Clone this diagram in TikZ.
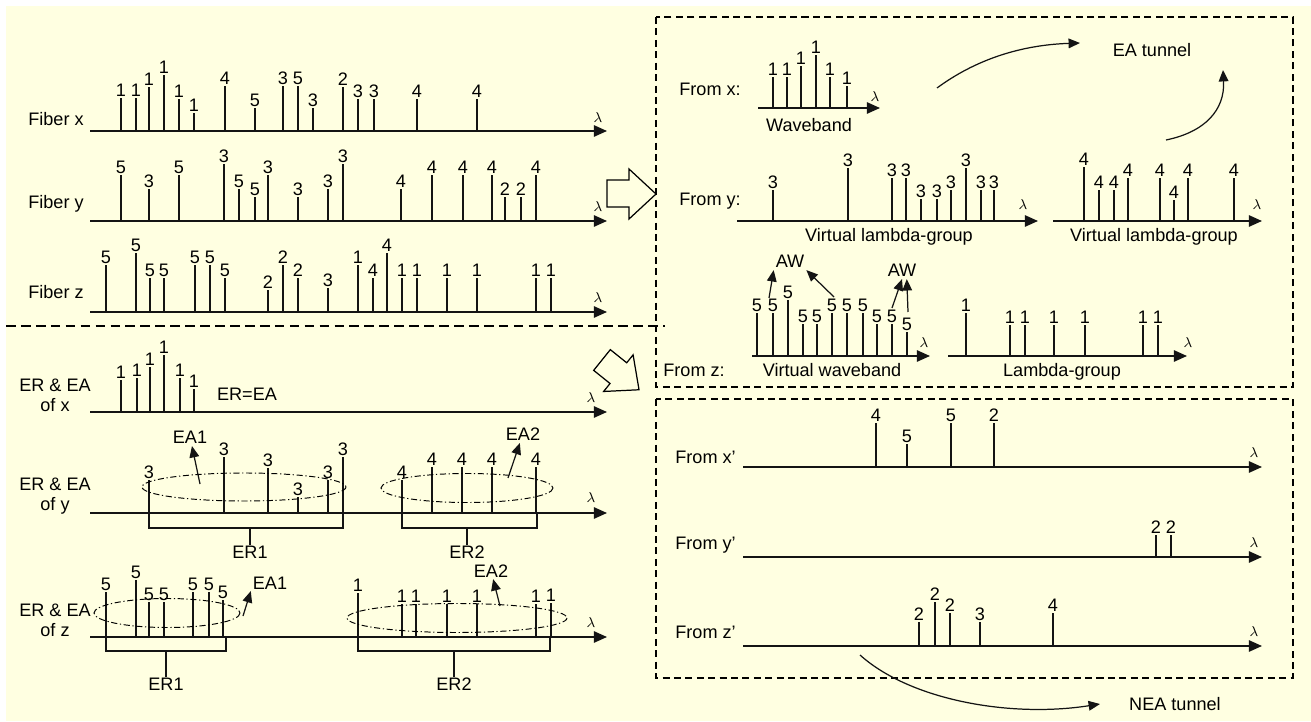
\documentclass[tikz,border=0pt]{standalone}
\usepackage{fontspec}
\setmainfont{Liberation Sans}
\usetikzlibrary{arrows.meta}
\definecolor{bgcream}{RGB}{255,255,225}
\definecolor{inkgray}{RGB}{20,20,20}
\newcommand{\lblfont}{\fontsize{10.3}{11.3}\selectfont}
\tikzset{
  axis/.style={line width=0.9pt, draw=inkgray, -{Triangle[length=7.5pt,width=6.5pt]}},
  wl/.style={line width=0.75pt, draw=inkgray},
  num/.style={anchor=south, inner sep=0.5pt, font=\lblfont},
  lam/.style={inner sep=0pt, font=\fontsize{8.5}{9}\selectfont},
  txt/.style={inner sep=0pt, font=\lblfont},
  ptr/.style={line width=0.7pt, draw=inkgray, -{Triangle[length=6.5pt,width=5.5pt]}},
  dashbox/.style={line width=0.9pt, dash pattern=on 4pt off 2.5pt},
  divider/.style={line width=0.9pt, dash pattern=on 5.5pt off 3pt},
  region/.style={line width=0.55pt, dash pattern=on 3.5pt off 1.5pt on 0.7pt off 1.5pt},
  bracket/.style={line width=1.2pt, draw=inkgray},
  bigarrow/.style={line width=0.7pt, line join=miter},
}

\begin{document}
\begin{tikzpicture}[x=0.02cm, y=-0.02cm]
  % Background
  \useasboundingbox (0,0) rectangle (1311,722);
  \fill[bgcream] (6,6) rectangle (1311,721);

  % Fiber x
  \node[txt, anchor=base east] (fibx) at (84,126) {Fiber x};
  \draw[axis] (90,131) -- (607,131);
  \node[lam] (lamfx) at (598,118) {$\lambda$};
  \foreach \x/\t/\v in {121/98/1,136/98/1,149/87/1,164/75/1,179/99/1,194/113/1,225/86/4,255/108/5,
      283/86/3,298/86/5,313/108/3,343/87/2,358/99/3,374/99/3,417/99/4,477/99/4}
    \draw[wl] (\x,131) -- (\x,\t) node[num] (fx\x) {\v};

  % Fiber y
  \node[txt, anchor=base east] (fiby) at (84,209) {Fiber y};
  \draw[axis] (90,221) -- (607,221);
  \node[lam] (lamfy) at (598,207) {$\lambda$};
  \foreach \x/\t/\v in {121/175/5,149/189/3,179/175/5,224/164/3,239/189/5,255/197/5,268/175/3,298/197/3,
      328/189/3,343/164/3,401/189/4,432/175/4,463/175/4,492/175/4,505/197/2,521/197/2,536/175/4}
    \draw[wl] (\x,221) -- (\x,\t) node[num] (fy\x) {\v};

  % Fiber z
  \node[txt, anchor=base east] (fibz) at (84,299) {Fiber z};
  \draw[axis] (90,312) -- (607,312);
  \node[lam] (lamfz) at (598,298) {$\lambda$};
  \foreach \x/\t/\v in {106/265/5,136/253/5,150/278/5,164/278/5,195/265/5,210/265/5,225/278/5,268/290/2,
      283/265/2,298/278/2,328/288/3,358/265/1,373/278/4,387/253/4,402/278/1,417/278/1,447/278/1,
      477/278/1,536/278/1,551/278/1}
    \draw[wl] (\x,312) -- (\x,\t) node[num] (fz\x) {\v};

  % Divider
  \draw[divider] (6,326) -- (665,326);

  % ER & EA of x
  \node[txt, align=center] (erx) at (55,395.5) {ER \& EA\\of x};
  \draw[axis] (90,412) -- (607,412);
  \node[lam] (lamex) at (591,398) {$\lambda$};
  \foreach \x/\t/\v in {121/380/1,137/378/1,150/367/1,164/355/1,180/378/1,194/389/1}
    \draw[wl] (\x,412) -- (\x,\t) node[num] (ex\x) {\v};
  \node[txt, anchor=base] (erea) at (247,401) {ER=EA};

  % ER & EA of y
  \node[txt, align=center] (ery) at (55,496.4) {ER \& EA\\of y};
  \draw[axis] (90,513) -- (607,513);
  \node[lam] (lamey) at (591,498) {$\lambda$};
  \foreach \x/\t/\v in {149/480/3,224/457/3,268/468/3,298/497/3,328/480/3,343/457/3,
      402/480/4,432/467/4,462/467/4,492/467/4,536/467/4}
    \draw[wl] (\x,513) -- (\x,\t) node[num] (ey\x) {\v};
  \draw[region] (244,487) ellipse [x radius=102, y radius=14];
  \draw[region] (467,488) ellipse [x radius=86, y radius=14.5];
  \node[txt, anchor=base, inner sep=1.5pt] (eaoney) at (190,443) {EA1};
  \node[txt, anchor=base, inner sep=1.5pt] (eatwoy) at (523,440) {EA2};
  \coordinate (eaoneyin) at (200,484);
  \coordinate (eatwoyin) at (508,478);
  \draw[ptr] (eaoneyin) -- (eaoney);
  \draw[ptr] (eatwoyin) -- (eatwoy);
  \draw[bracket] (149,513) -- (149,528) -- (343,528) -- (343,513);
  \draw[bracket] (402,513) -- (402,528) -- (537,528) -- (537,513);
  \node[txt, anchor=base] (eroney) at (250,558) {ER1};
  \node[txt, anchor=base] (ertwoy) at (467,558) {ER2};
  \draw[wl] (250,528) -- (eroney);
  \draw[wl] (467,528) -- (ertwoy);

  % ER & EA of z
  \node[txt, align=center] (erz) at (55,620.5) {ER \& EA\\of z};
  \draw[axis] (90,637) -- (607,637);
  \node[lam] (lamez) at (591,623) {$\lambda$};
  \foreach \x/\t/\v in {106/592/5,136/580/5,149/602/5,164/602/5,193/592/5,209/592/5,223/600/5,
      358/593/1,402/604/1,416/604/1,447/604/1,477/604/1,536/604/1,551/603/1}
    \draw[wl] (\x,637) -- (\x,\t) node[num] (ez\x) {\v};
  \draw[region] (167,613) ellipse [x radius=73, y radius=14.5];
  \draw[region] (457,618) ellipse [x radius=110, y radius=14.5];
  \node[txt, anchor=base, inner sep=1pt] (eaonez) at (270,589) {EA1};
  \node[txt, anchor=base, inner sep=1pt] (eatwoz) at (491,577) {EA2};
  \coordinate (eaonezin) at (243,616);
  \coordinate (eatwozin) at (500,606);
  \draw[ptr] (eaonezin) -- (eaonez.south west);
  \draw[ptr] (eatwozin) -- (eatwoz);
  \draw[bracket] (106,637) -- (106,651) -- (226,651) -- (226,637);
  \draw[bracket] (358,637) -- (358,651) -- (550,651) -- (550,637);
  \node[txt, anchor=base] (eronez) at (166,690) {ER1};
  \node[txt, anchor=base] (ertwoz) at (454,690) {ER2};
  \draw[wl] (166,651) -- (eronez);
  \draw[wl] (454,651) -- (ertwoz);

  % Hollow arrows
  \draw[bigarrow] (607,180) -- (629,180) -- (629,169) -- (656,194) -- (629,219) -- (629,207) -- (607,207) -- cycle;
  \draw[bigarrow, shift={(602,360)}, rotate=-38.8]
    (0,-13.3) -- (21,-13.3) -- (21,-23.5) -- (47.5,0) -- (21,23.5) -- (21,13.3) -- (0,13.3) -- cycle;

  % Boxes
  \draw[dashbox] (656,17) rectangle (1293,387);
  \draw[dashbox] (656,399) rectangle (1293,678);

  % From x
  \node[txt, anchor=base west] (frx) at (679,96) {From x:};
  \draw[axis] (758,108) -- (880,108);
  \node[lam] (lamrx) at (875,97) {$\lambda$};
  \foreach \x/\t/\v in {773/77/1,787/77/1,801/66/1,816/55/1,830/77/1,847/86/1}
    \draw[wl] (\x,108) -- (\x,\t) node[num] (rx\x) {\v};
  \node[txt, anchor=base] (waveb) at (809,132) {Waveband};

  % EA tunnel
  \node[txt, anchor=base] (eatun) at (1152,57) {EA tunnel};
  \coordinate (eaxin) at (937,88);
  \coordinate (eaxout) at (1080,43);
  \coordinate (eayin) at (1166,140);
  \coordinate (eayout) at (1223,70);
  \draw[ptr] (eaxin) .. controls (975,60) and (1020,45) .. (eaxout);
  \draw[ptr] (eayin) .. controls (1205,132) and (1225,110) .. (eayout);

  % From y
  \node[txt, anchor=base west] (fry) at (679,206) {From y:};
  \draw[axis] (737,221) -- (1038,221);
  \node[lam] (lamry) at (1023,205) {$\lambda$};
  \foreach \x/\t/\v in {773/190/3,848/168/3,892/178/3,906/178/3,921/199/3,937/199/3,951/190/3,
      966/168/3,981/190/3,994/190/3}
    \draw[wl] (\x,221) -- (\x,\t) node[num] (ry\x) {\v};
  \node[txt, anchor=base] (vlgone) at (889,242) {Virtual lambda-group};
  \draw[axis] (1053,221) -- (1262,221);
  \node[lam] (lamrytwo) at (1257,205) {$\lambda$};
  \foreach \x/\t/\v in {1084/167/4,1099/190/4,1114/190/4,1128/178/4,1160/178/4,1174/200/4,1188/178/4,1234/178/4}
    \draw[wl] (\x,221) -- (\x,\t) node[num] (ryy\x) {\v};
  \node[txt, anchor=base] (vlgtwo) at (1154,242) {Virtual lambda-group};

  % From z
  \node[txt, anchor=base west] (frz) at (663,377) {From z:};
  \draw[axis] (752,356) -- (930,356);
  \node[lam] (lamrz) at (924,343) {$\lambda$};
  \foreach \x/\t/\v in {757/313/5,773/313/5,788/300/5,803/324/5,817/324/5,832/313/5,847/313/5,
      863/313/5,877/324/5,892/324/5,907/332/5}
    \draw[wl] (\x,356) -- (\x,\t) node[num] (rz\x) {\v};
  \node[txt, anchor=base] (vwb) at (832,377) {Virtual waveband};
  \node[txt, anchor=base, inner sep=1pt] (awone) at (790,268) {AW};
  \node[txt, anchor=base, inner sep=1pt] (awtwo) at (902,277) {AW};
  \coordinate (awa) at (769,298);
  \coordinate (awb) at (834,297);
  \coordinate (awc) at (892,308);
  \coordinate (awd) at (908,312);
  \draw[ptr] (awa) -- (awone.south west);
  \draw[ptr] (awb) -- (awone.south east);
  \draw[ptr] (awc) -- (awtwo.south);
  \draw[ptr] (awd) -- (awtwo.-60);
  \draw[axis] (948,356) -- (1187,356);
  \node[lam] (lamrztwo) at (1188,343) {$\lambda$};
  \foreach \x/\t/\v in {966/313/1,1010/325/1,1025/325/1,1054/325/1,1085/325/1,1143/325/1,1158/325/1}
    \draw[wl] (\x,356) -- (\x,\t) node[num] (rzz\x) {\v};
  \node[txt, anchor=base] (lgrp) at (1062,377) {Lambda-group};

  % From x', y', z'
  \node[txt, anchor=base west] (frxp) at (675,463) {From x'};
  \draw[axis] (743,467) -- (1262,467);
  \node[lam] (lamxp) at (1254,453) {$\lambda$};
  \foreach \x/\t/\v in {876/423/4,907/444/5,951/423/5,994/423/2}
    \draw[wl] (\x,467) -- (\x,\t) node[num] (xp\x) {\v};
  \node[txt, anchor=base west] (fryp) at (675,549) {From y'};
  \draw[axis] (743,557) -- (1262,557);
  \node[lam] (lamyp) at (1254,543) {$\lambda$};
  \foreach \x/\t/\v in {1156/535/2,1171/535/2}
    \draw[wl] (\x,557) -- (\x,\t) node[num] (yp\x) {\v};
  \node[txt, anchor=base west] (frzp) at (675,638) {From z'};
  \draw[axis] (743,646) -- (1262,646);
  \node[lam] (lamzp) at (1254,632) {$\lambda$};
  \foreach \x/\t/\v in {919/622/2,935/602/2,950/613/2,980/622/3,1053/613/4}
    \draw[wl] (\x,646) -- (\x,\t) node[num] (zp\x) {\v};

  % NEA tunnel
  \node[txt, anchor=base] (neatun) at (1175,710) {NEA tunnel};
  \coordinate (neain) at (860,655);
  \coordinate (neaout) at (1100,704);
  \draw[ptr] (neain) .. controls (910,700) and (1010,718) .. (neaout);
\end{tikzpicture}
\end{document}
